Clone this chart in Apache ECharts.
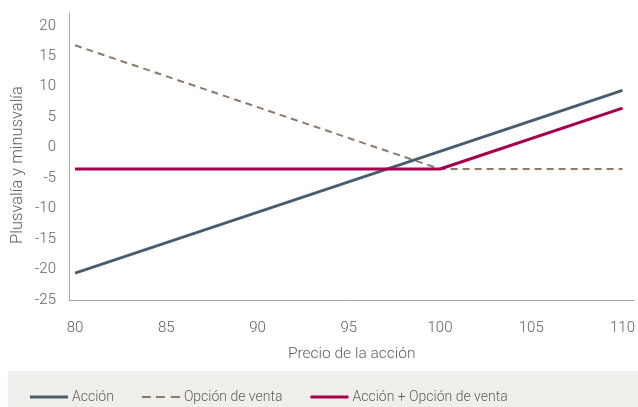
<!DOCTYPE html>
<html>
<head>
<meta charset="utf-8">
<script src="https://cdn.jsdelivr.net/npm/echarts@6/dist/echarts.min.js"></script>
<style>
  html, body { margin: 0; padding: 0; background: #ffffff; }
  #chart { width: 638px; height: 407px; }
</style>
</head>
<body>
<div id="chart"></div>
<script>
// Stock price at expiry (x) and profit / loss of each position (y)
const precios = [80, 100, 110];
const accion = [-20.6, -0.6, 9.4];
const opcionVenta = [16.8, -3.5, -3.5];
const accionMasOpcion = [-3.5, -3.5, 6.5];
const ticksX = [80, 85, 90, 95, 100, 105, 110];

const nombres = ['Acción', 'Opción de venta', 'Acción + Opción de venta'];
const colores = ['#4a5d6d', '#8e7a68', '#a4004f'];

const pares = (ys) => precios.map((p, i) => [p, ys[i]]);

const fuente = 'Roboto, "Liberation Sans", sans-serif';
const textoGris = '#5f5f5f';

// legend glyphs: solid bar and three dashes
const iconoSolido = 'path://M0,0H38V3H0Z';
const iconoDiscontinuo = 'path://M0,0H9V2H0Z M14,0H23V2H14Z M29,0H38V2H29Z';

const chart = echarts.init(document.getElementById('chart'), null, { renderer: 'canvas' });

chart.setOption({
  animation: false,
  backgroundColor: '#ffffff',
  textStyle: { fontFamily: fuente },
  graphic: [
    {
      type: 'rect',
      left: 8, top: 371,
      shape: { width: 630, height: 36 },
      style: { fill: '#efeeeb' },
      silent: true,
      z: -10
    },
    {
      type: 'text',
      x: 18, y: 165,
      rotation: Math.PI / 2,
      style: {
        text: 'Plusvalía y minusvalía',
        fill: textoGris,
        font: '300 16.5px ' + fuente,
        align: 'center',
        verticalAlign: 'middle'
      },
      silent: true
    }
  ],
  grid: { left: 69, right: 0, top: 13, bottom: 107, containLabel: false },
  xAxis: {
    type: 'value',
    min: 79.67,
    max: 110.65,
    name: 'Precio de la acción',
    nameLocation: 'middle',
    nameGap: 46,
    nameTextStyle: { color: textoGris, fontSize: 15.5, fontWeight: 300, fontFamily: fuente },
    axisLine: { onZero: false, lineStyle: { color: '#a6a6a6', width: 1 } },
    axisTick: { show: false },
    splitLine: { show: false },
    axisLabel: {
      customValues: ticksX,
      color: textoGris, fontSize: 15, fontWeight: 300, fontFamily: fuente,
      margin: 21
    }
  },
  yAxis: {
    type: 'value',
    min: -25,
    max: 22.1,
    interval: 5,
    axisLine: { show: true, onZero: false, lineStyle: { color: '#a6a6a6', width: 1 } },
    axisTick: { show: false },
    splitLine: { show: false },
    axisLabel: {
      showMaxLabel: false,
      color: textoGris, fontSize: 15, fontWeight: 300, fontFamily: fuente,
      margin: 13
    }
  },
  legend: {
    left: 30,
    top: 390,
    padding: 0,
    itemWidth: 38,
    itemHeight: 14,
    itemGap: 28,
    textStyle: { color: textoGris, fontSize: 14, fontWeight: 300, fontFamily: fuente, padding: [0, 0, 0, -1] },
    data: [
      { name: nombres[0], icon: iconoSolido },
      { name: nombres[1], icon: iconoDiscontinuo },
      { name: nombres[2], icon: iconoSolido }
    ]
  },
  series: [
    {
      name: nombres[0], type: 'line', data: pares(accion),
      symbol: 'none', z: 3,
      lineStyle: { color: colores[0], width: 3 },
      itemStyle: { color: colores[0] }
    },
    {
      name: nombres[1], type: 'line', data: pares(opcionVenta),
      symbol: 'none', z: 2,
      lineStyle: { color: colores[1], width: 2, type: [7, 5] },
      itemStyle: { color: colores[1] }
    },
    {
      name: nombres[2], type: 'line', data: pares(accionMasOpcion),
      symbol: 'none', z: 4,
      lineStyle: { color: colores[2], width: 3 },
      itemStyle: { color: colores[2] }
    }
  ]
});
</script>
</body>
</html>
